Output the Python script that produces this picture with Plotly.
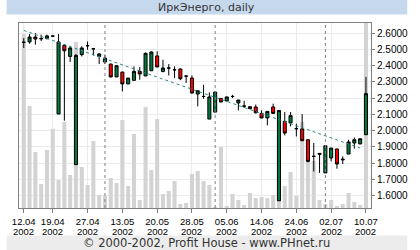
import plotly.graph_objects as go

# ---------------- data ----------------
dates = [
    "12.04.2002", "15.04.2002", "16.04.2002", "17.04.2002", "18.04.2002", "19.04.2002",
    "22.04.2002", "23.04.2002", "24.04.2002", "25.04.2002", "26.04.2002", "27.04.2002",
    "29.04.2002", "30.04.2002",
    "06.05.2002", "07.05.2002", "08.05.2002", "13.05.2002", "14.05.2002", "15.05.2002",
    "16.05.2002", "17.05.2002", "18.05.2002", "20.05.2002", "21.05.2002", "22.05.2002",
    "23.05.2002", "24.05.2002", "27.05.2002", "28.05.2002", "29.05.2002", "30.05.2002",
    "31.05.2002",
    "03.06.2002", "04.06.2002", "05.06.2002", "06.06.2002", "07.06.2002", "10.06.2002",
    "11.06.2002", "13.06.2002", "14.06.2002", "17.06.2002", "18.06.2002", "19.06.2002",
    "20.06.2002", "21.06.2002", "24.06.2002", "25.06.2002", "26.06.2002", "27.06.2002",
    "28.06.2002",
    "01.07.2002", "02.07.2002", "03.07.2002", "04.07.2002", "05.07.2002", "08.07.2002",
    "09.07.2002", "10.07.2002",
]

opens = [
    2.543, 2.545, 2.575, 2.565, 2.567, 2.581, 2.102, 2.524, 2.456, 1.791,
    2.467, 2.522, 2.503, 2.456, 2.422, 2.409, 2.330, 2.360, 2.287, 2.309,
    2.364, 2.336, 2.368, 2.459, 2.364, 2.385, 2.374, 2.379, 2.335, 2.323,
    2.225, 2.210, 2.071, 2.114, 2.198, 2.182, 2.210, 2.170, 2.151, 2.147,
    2.145, 2.106, 2.078, 2.145, 1.569, 2.057, 2.047, 2.012, 2.010, 1.944,
    1.842, 1.860, 1.740, 1.832, 1.887, 1.820, 1.856, 1.924, 1.918, 1.975,
]
highs = [
    2.568, 2.594, 2.600, 2.590, 2.590, 2.583, 2.594, 2.532, 2.518, 2.471,
    2.518, 2.548, 2.505, 2.477, 2.467, 2.412, 2.401, 2.362, 2.323, 2.395,
    2.391, 2.480, 2.487, 2.487, 2.436, 2.409, 2.395, 2.381, 2.339, 2.339,
    2.245, 2.282, 2.235, 2.240, 2.199, 2.209, 2.220, 2.188, 2.184, 2.150,
    2.160, 2.125, 2.118, 2.166, 2.124, 2.114, 2.114, 2.043, 2.102, 1.946,
    1.924, 1.861, 1.907, 1.893, 1.889, 1.842, 1.944, 1.958, 1.952, 2.330,
]
lows = [
    2.508, 2.534, 2.528, 2.550, 2.560, 2.579, 2.102, 2.061, 2.422, 1.791,
    2.456, 2.497, 2.462, 2.409, 2.409, 2.326, 2.330, 2.241, 2.287, 2.309,
    2.313, 2.336, 2.368, 2.391, 2.358, 2.339, 2.323, 2.310, 2.293, 2.229,
    2.149, 2.196, 2.071, 2.114, 2.175, 2.182, 2.200, 2.124, 2.139, 2.133,
    2.105, 2.076, 2.032, 2.104, 1.569, 1.971, 2.026, 1.964, 1.936, 1.805,
    1.749, 1.740, 1.740, 1.811, 1.766, 1.795, 1.856, 1.889, 1.918, 1.975,
]
closes = [
    2.543, 2.575, 2.563, 2.565, 2.582, 2.581, 2.545, 2.491, 2.508, 2.462,
    2.508, 2.522, 2.503, 2.471, 2.446, 2.330, 2.399, 2.287, 2.323, 2.364,
    2.348, 2.475, 2.483, 2.391, 2.385, 2.385, 2.374, 2.319, 2.335, 2.231,
    2.245, 2.210, 2.207, 2.237, 2.176, 2.207, 2.210, 2.188, 2.151, 2.135,
    2.110, 2.078, 2.118, 2.106, 2.124, 1.985, 2.092, 2.012, 1.938, 1.811,
    1.842, 1.855, 1.907, 1.893, 1.795, 1.824, 1.930, 1.944, 1.950, 2.227,
]
volumes = [
    174, 102, 56, 24, 58, 79, 28, 86, 33, 166,
    41, 23, 67, 13, 12, 30, 25, 88, 22, 74,
    8, 101, 38, 89, 14, 17, 27, 4, 5, 34,
    37, 27, 23, 1, 61, 2, 14, 8, 3, 15,
    10, 11, 10, 13, 12, 22, 36, 12, 86, 50,
    47, 8, 4, 8, 2, 4, 15, 6, 3, 185,
]

tick_dates = ["12.04.2002", "19.04.2002", "27.04.2002", "13.05.2002", "20.05.2002",
              "28.05.2002", "05.06.2002", "14.06.2002", "24.06.2002", "02.07.2002",
              "10.07.2002"]
tick_day_labels = [d[:5] for d in tick_dates]
tick_year_labels = [d[6:] for d in tick_dates]
month_starts = ["06.05.2002", "03.06.2002", "01.07.2002"]
trend_dates = ["12.04.2002", "09.07.2002"]
trend_values = [2.616, 1.893]
y_ticks = [1.6, 1.7, 1.8, 1.9, 2.0, 2.1, 2.2, 2.3, 2.4, 2.5, 2.6]

title_text = "ИркЭнерго, daily"
footer_text = "© 2000-2002, Profit House - www.PHnet.ru"

# ---------------- layout geometry ----------------
W, H = 420, 250
PL, PR, PT, PB = 13, 382, 23, 208


def pxx(px):
    return (px - PL) / (PR - PL)


def pxy(py):
    return (PB - py) / (PB - PT)


fig = go.Figure()

fig.add_trace(go.Bar(
    x=dates, y=volumes, marker=dict(color="#d3d3d3", line=dict(width=0)),
    yaxis="y", showlegend=False, hoverinfo="skip",
))

fig.add_trace(go.Scatter(
    x=trend_dates, y=trend_values, mode="lines",
    line=dict(color="#2f8a86", width=1, dash="3px,3px"),
    yaxis="y2", showlegend=False, hoverinfo="skip",
))

fig.add_trace(go.Candlestick(
    x=dates, open=opens, high=highs, low=lows, close=closes,
    increasing=dict(fillcolor="#007a3d", line=dict(color="#000000", width=1)),
    decreasing=dict(fillcolor="#ff0000", line=dict(color="#000000", width=1)),
    whiskerwidth=0, yaxis="y2", showlegend=False,
))

shapes = [
    dict(type="rect", xref="paper", yref="paper", x0=pxx(0), x1=pxx(W),
         y0=pxy(14.5), y1=pxy(0), fillcolor="#c6d8ec", line=dict(width=0), layer="below"),
    dict(type="rect", xref="paper", yref="paper", x0=pxx(0), x1=pxx(W),
         y0=pxy(H), y1=pxy(235.5), fillcolor="#ececec", line=dict(width=0), layer="below"),
]
for m in month_starts:
    idx = dates.index(m)
    shapes.append(dict(type="line", xref="x", yref="paper", x0=idx, x1=idx, y0=0, y1=1,
                       line=dict(color="#808080", width=1, dash="3px,3px"), layer="above"))

annotations = [
    dict(text=title_text, xref="paper", yref="paper", x=pxx(W / 2), y=pxy(7.5),
         showarrow=False, xanchor="center", yanchor="middle",
         font=dict(family="DejaVu Sans", size=11, color="#333333")),
    dict(text=footer_text, xref="paper", yref="paper", x=pxx(W / 2), y=pxy(243),
         showarrow=False, xanchor="center", yanchor="middle",
         font=dict(family="DejaVu Sans", size=11.5, color="#333333")),
]
for d, yl in zip(tick_dates, tick_year_labels):
    annotations.append(dict(
        text=yl, xref="x", yref="paper", x=dates.index(d), y=pxy(231),
        showarrow=False, xanchor="center", yanchor="middle",
        font=dict(family="Liberation Sans", size=9.5, color="#000000"),
    ))

fig.update_layout(
    width=W, height=H,
    margin=dict(l=PL, r=W - PR, t=PT, b=H - PB, pad=0),
    paper_bgcolor="#ffffff", plot_bgcolor="#ffffff",
    bargap=0.3, boxgap=0.25,
    shapes=shapes,
    annotations=annotations,
    xaxis=dict(
        type="category", categoryorder="array", categoryarray=dates,
        range=[-0.82, len(dates) - 1 + 0.87],
        tickmode="array", tickvals=tick_dates, ticktext=tick_day_labels,
        ticks="outside", ticklen=4, tickcolor="#808080", ticklabelstandoff=1,
        showgrid=True, gridcolor="#ebebeb", gridwidth=1,
        showline=True, linecolor="#808080", linewidth=1, mirror=True,
        tickfont=dict(family="Liberation Sans", size=9.5, color="#000000"),
        rangeslider=dict(visible=False), fixedrange=True,
    ),
    yaxis=dict(range=[0, 185], visible=False, showgrid=False, fixedrange=True),
    yaxis2=dict(
        overlaying="y", side="right", anchor="x",
        range=[1.5244, 2.6615],
        tickmode="array", tickvals=y_ticks, tickformat=".4f",
        ticks="outside", ticklen=3, tickcolor="#808080",
        showgrid=True, gridcolor="#ebebeb", gridwidth=1,
        showline=True, linecolor="#808080", linewidth=1, mirror=True,
        tickfont=dict(family="Liberation Sans", size=10, color="#000000"),
        zeroline=False, fixedrange=True,
    ),
)

fig.write_html("out.html")
